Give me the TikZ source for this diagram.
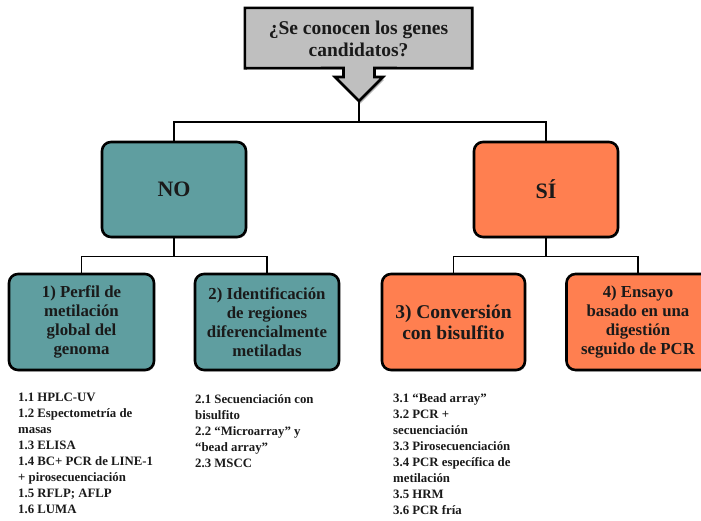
\documentclass[tikz,border=0pt]{standalone}
\usepackage{fontspec}
\setmainfont{Liberation Serif}
\usetikzlibrary{shadows,calc}
\definecolor{tealbox}{HTML}{5F9EA0}
\definecolor{coralbox}{HTML}{FF7F50}
\definecolor{greybox}{HTML}{BFBFBF}
\definecolor{ink}{HTML}{1A1A1A}
\tikzset{
  box/.style={draw=black, line width=2.6pt, rounded corners=9pt, align=center,
    text=ink, font=\bfseries\fontsize{16.8}{19}\selectfont, inner sep=2pt,
    drop shadow={shadow xshift=1pt, shadow yshift=-1.5pt, opacity=0.35}},
  nobox/.style={box, fill=tealbox},
  sibox/.style={box, fill=coralbox},
  link/.style={draw=black, line width=1.4pt},
  listtext/.style={anchor=north west, align=left, text=ink, inner sep=0pt,
    font=\bfseries\fontsize{12.8}{16}\selectfont},
  qfont/.style={font=\bfseries\fontsize{19.5}{22}\selectfont}
}
\begin{document}
\begin{tikzpicture}[x=1pt, y=-1pt]
\useasboundingbox (0,0) rectangle (701,520);
\clip (0,0) rectangle (701,520);

% question callout: rectangle with a downward arrow
\node[minimum width=227pt, minimum height=60pt, inner sep=0pt] (q) at (358.5,38) {};
\fill[black, opacity=0.3] ($(q.north west)+(1,1.5)$) -- ($(q.north east)+(1,1.5)$) -- ($(q.south east)+(1,1.5)$) -- ++(-98,0) -- ++(0,10) -- ++(9,0) -- ++(-24,24) -- ++(-24,-24) -- ++(9,0) -- ++(0,-10) -- ($(q.south west)+(1,1.5)$) -- cycle;
\draw[fill=greybox, line width=2.6pt, line join=miter]
  (q.north west) -- (q.north east) -- (q.south east) -- (374.5,68) -- (374.5,77)
  -- (383,77) -- (359,101) coordinate (tip) -- (335,77) -- (343.5,77) -- (343.5,68)
  -- (q.south west) -- cycle;
\node[inner sep=0pt, align=center, text=ink, qfont] (qtext) at ($(q)+(0,1)$)
  {¿Se conocen los genes\\candidatos?};

% first level
\node[nobox, minimum width=144pt, minimum height=95pt, font=\bfseries\fontsize{22}{24}\selectfont] (no) at (174,189.5) {NO};
\node[sibox, minimum width=144pt, minimum height=95pt, font=\bfseries\fontsize{22}{24}\selectfont] (si) at (546,189.5) {SÍ};

% second level
\node[nobox, minimum width=145pt, minimum height=96pt] (b1) at (81.5,322)
  {1) Perfil de\\metilación\\global del\\genoma};
\node[nobox, minimum width=144pt, minimum height=96pt] (b2) at (267,322)
  {2) Identificación\\de regiones\\diferencialmente\\metiladas};
\node[sibox, minimum width=143pt, minimum height=96pt,
  font=\bfseries\fontsize{19.5}{21}\selectfont] (b3) at (453.5,322)
  {3) Conversión\\con bisulfito};
\node[sibox, minimum width=143pt, minimum height=96pt] (b4) at (638,322)
  {4) Ensayo\\basado en una\\digestión\\seguido de PCR};

% connectors
\coordinate (bus) at (359,122);
\draw[link] (tip) -- (bus);
\draw[link] (no.north) |- (bus) -| (si.north);
\draw[link] (no.south) -- ++(0,18) coordinate (nb);
\draw[link] (b1.north) |- (nb) -| (b2.north);
\draw[link] (si.south) -- ++(0,18) coordinate (sb);
\draw[link] (b3.north) |- (sb) -| (b4.north);

% method lists
\node[listtext] (l1) at (18,393) {1.1 HPLC-UV\\1.2 Espectometría de\\masas\\1.3 ELISA\\1.4 BC+ PCR de LINE-1\\+ pirosecuenciación\\1.5 RFLP; AFLP\\1.6 LUMA};
\node[listtext] (l2) at (195,394) {2.1 Secuenciación con\\bisulfito\\2.2 “Microarray” y\\“bead array”\\2.3 MSCC};
\node[listtext] (l3) at (393,393) {3.1 “Bead array”\\3.2 PCR +\\secuenciación\\3.3 Pirosecuenciación\\3.4 PCR específica de\\metilación\\3.5 HRM\\3.6 PCR fría};
\end{tikzpicture}
\end{document}
